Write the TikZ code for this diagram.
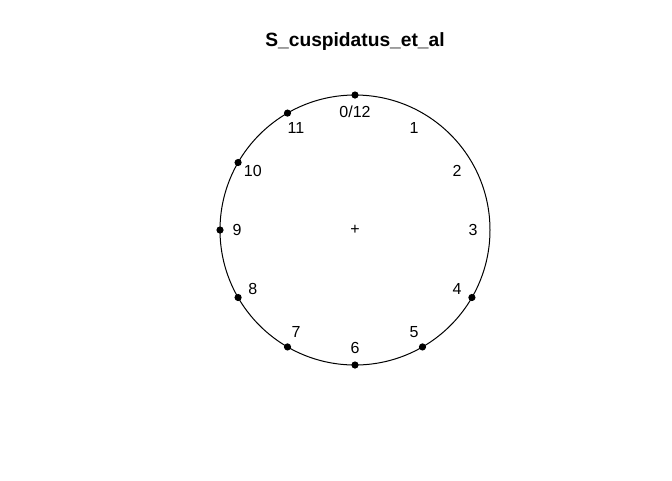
\documentclass[tikz,border=0pt]{standalone}
\usepackage{fontspec}
\setmainfont{Liberation Sans}
\begin{document}
\begin{tikzpicture}[x=0.75pt, y=-0.75pt]
    \useasboundingbox (0,0) rectangle (672,480);

    % Title - bold, above the clock
    \node [font=\fontsize{14.4}{17}\selectfont\bfseries, anchor=base] (title) at (355,46.5) {S\_cuspidatus\_et\_al};

    % Clock face with centre mark
    \coordinate (centre) at (355,230);
    \draw [line width=0.75pt] (centre) circle [radius=135];
    \node [font=\fontsize{12}{14}\selectfont, inner sep=0pt] (plus) at (centre) {+};

    % Hour labels - inside the circle
    \node [font=\fontsize{12}{14}\selectfont, text height=8.6pt, text depth=0pt, inner sep=0pt] (hour0) at ([shift={(0,-118)}]centre) {0/12};
    \foreach \h in {1,...,11} {
        \node [font=\fontsize{12}{14}\selectfont, text height=8.6pt, text depth=0pt, inner sep=0pt] (hour\h) at ([shift={({118*sin(30*\h)},{-118*cos(30*\h)})}]centre) {\h};
    }

    % Observed points on the circle
    \foreach \h in {0,4,5,6,7,8,9,10,11} {
        \node [circle, fill=black, inner sep=0pt, minimum size=5.4pt] (dot\h) at ([shift={({135*sin(30*\h)},{-135*cos(30*\h)})}]centre) {};
    }

\end{tikzpicture}
\end{document}
